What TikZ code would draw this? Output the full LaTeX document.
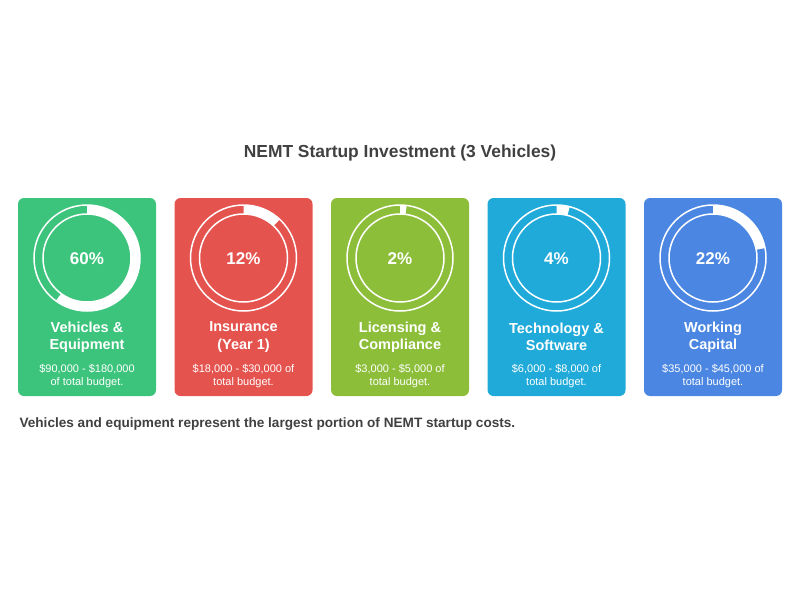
\documentclass[tikz,border=0pt]{standalone}
\usepackage{fontspec}
\setmainfont{Liberation Sans}
\usetikzlibrary{positioning}
\definecolor{cgreen}{HTML}{3CC47C}
\definecolor{cred}{HTML}{E5534F}
\definecolor{colive}{HTML}{8CBE3A}
\definecolor{ccyan}{HTML}{1FAADA}
\definecolor{cblue}{HTML}{4A86E2}
\definecolor{ctext}{HTML}{404040}
\tikzset{
  card/.style={rounded corners=6pt, minimum width=138pt, minimum height=198pt, inner sep=0pt},
  pct/.style={text=white, font=\bfseries\fontsize{17}{19}\selectfont},
  lbl/.style={text=white, font=\bfseries\fontsize{14.5}{17.5}\selectfont, align=center},
  sub/.style={text=white, font=\fontsize{11}{13.5}\selectfont, align=center},
}
\begin{document}
\begin{tikzpicture}[x=1pt,y=-1pt]
  \useasboundingbox (0,0) rectangle (800,600);
  \node[text=ctext, font=\bfseries\fontsize{17.4}{20}\selectfont] (title) at (400,153) {NEMT Startup Investment (3 Vehicles)};

  \foreach \i/\x/\col/\p/\name/\cost in {
      1/87/cgreen/60/{Vehicles \&\\Equipment}/{\$90,000 - \$180,000\\of total budget.},
      2/243.5/cred/12/{Insurance\\(Year 1)}/{\$18,000 - \$30,000 of\\total budget.},
      3/400/colive/2/{Licensing \&\\Compliance}/{\$3,000 - \$5,000 of\\total budget.},
      4/556.5/ccyan/4/{Technology \&\\Software}/{\$6,000 - \$8,000 of\\total budget.},
      5/713/cblue/22/{Working\\Capital}/{\$35,000 - \$45,000 of\\total budget.}} {
    \node[card, fill=\col] (c\i) at (\x,297) {};
    % ring
    \pgfmathsetmacro{\ang}{-90+3.6*\p}
    \fill[white] (\x,205) arc[start angle=-90, end angle=\ang, radius=53]
      -- ({\x+44*cos(\ang)},{258+44*sin(\ang)})
      arc[start angle=\ang, end angle=-90, radius=44] -- cycle;
    \draw[white, line width=1.5pt] (\x,258) circle[radius=53] (\x,258) circle[radius=44];
    \node[pct] (p\i) at (\x,259) {\p\%};
    \node[lbl] (l\i) at (\x,337) {\name};
    \node[sub] (s\i) at (\x,376) {\cost};
  }

  \node[text=ctext, font=\bfseries\fontsize{13.6}{16}\selectfont, anchor=west] (note) at (16,424)
    {Vehicles and equipment represent the largest portion of NEMT startup costs.};
\end{tikzpicture}
\end{document}
